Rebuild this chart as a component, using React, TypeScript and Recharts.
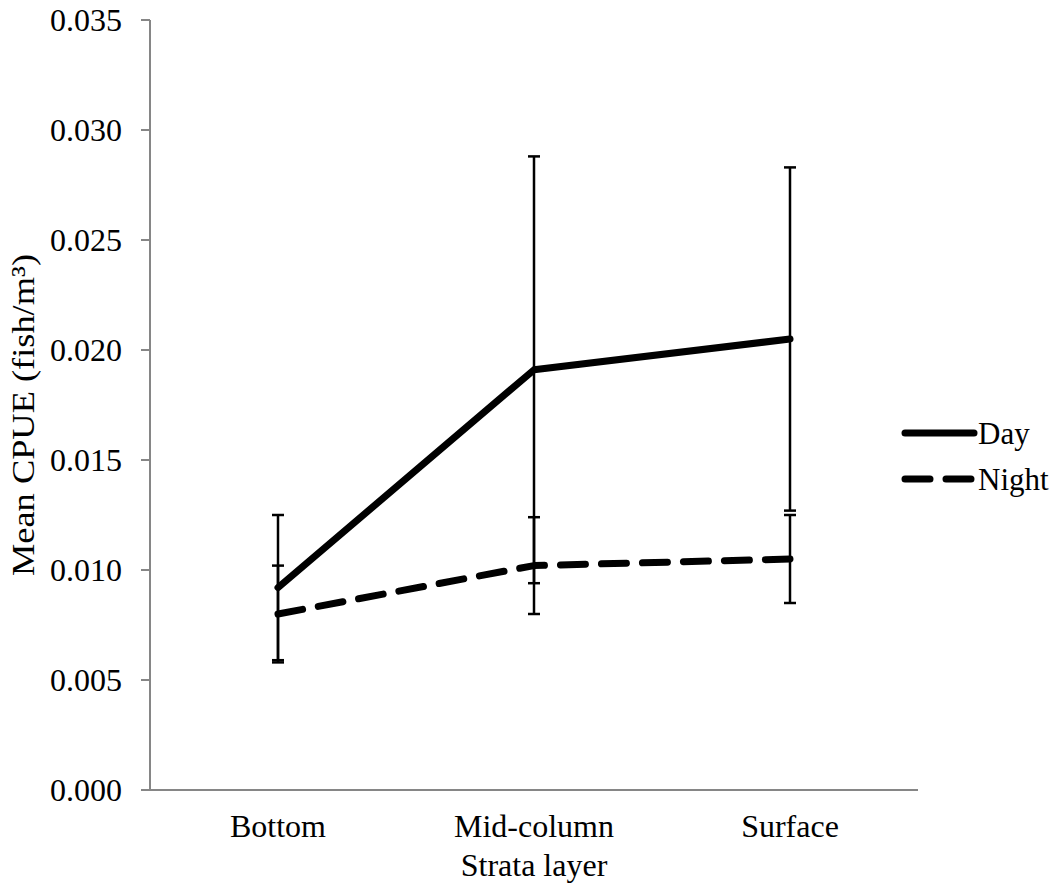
import { LineChart, Line, XAxis, YAxis, ErrorBar, Legend } from 'recharts'

const layers = ['Bottom', 'Mid-column', 'Surface']
const dayMean = [0.0092, 0.0191, 0.0205]
const dayErr = [0.0033, 0.0097, 0.0078]
const nightMean = [0.008, 0.0102, 0.0105]
const nightErr = [0.0022, 0.0022, 0.002]
const yTicks = [0, 0.005, 0.01, 0.015, 0.02, 0.025, 0.03, 0.035]

const data = layers.map((layer, i) => ({
  layer,
  Day: dayMean[i],
  dayErr: dayErr[i],
  Night: nightMean[i],
  nightErr: nightErr[i],
}))

const FONT = '"Liberation Serif", "Times New Roman", serif'
const FS = 32
const AXIS = '#868686'
const DASH = '25 16'

function LegendContent({ payload }: { payload?: { value: string }[] }) {
  if (!payload?.length) return null
  return (
    <div style={{ display: 'flex', flexDirection: 'column' }}>
      {payload.map((p) => (
        <div key={p.value} style={{ display: 'flex', alignItems: 'center', height: 46 }}>
          <svg width={77} height={12} style={{ flexShrink: 0 }}>
            <line
              x1={4}
              y1={6}
              x2={73}
              y2={6}
              stroke="#000"
              strokeWidth={7}
              strokeLinecap="round"
              strokeDasharray={p.value === 'Night' ? DASH : undefined}
            />
          </svg>
          <span style={{ fontFamily: FONT, fontSize: 31, color: '#000', lineHeight: 1, whiteSpace: 'nowrap' }}>
            {p.value}
          </span>
        </div>
      ))}
    </div>
  )
}

function YTitle({ viewBox }: { viewBox?: { x: number; y: number; width: number; height: number } }) {
  if (!viewBox) return null
  const cx = 34
  const cy = viewBox.y + viewBox.height / 2 + 10
  return (
    <text
      x={cx}
      y={cy}
      transform={`rotate(-90, ${cx}, ${cy})`}
      textAnchor="middle"
      fontFamily={FONT}
      fontSize={FS}
      textLength={322}
      lengthAdjust="spacingAndGlyphs"
      fill="#000"
    >
      Mean CPUE (fish/m³)
    </text>
  )
}

export default function App() {
  return (
    <div style={{ position: 'absolute', left: 0, top: 0, width: 1063, height: 892, background: '#fff' }}>
      <LineChart
        width={1063}
        height={892}
        data={data}
        margin={{ top: 20, right: -17, bottom: 12, left: 0 }}
      >
        <XAxis
          dataKey="layer"
          height={90}
          padding={{ left: 128, right: 128 }}
          axisLine={{ stroke: AXIS, strokeWidth: 2 }}
          tickLine={false}
          tickSize={0}
          tickMargin={24}
          tick={{ fontFamily: FONT, fontSize: FS, fill: '#000' }}
          label={{
            value: 'Strata layer',
            position: 'insideBottom',
            offset: 4,
            style: { fontFamily: FONT, fontSize: FS, fill: '#000' },
          }}
        />
        <YAxis
          width={150}
          domain={[0, 0.035]}
          ticks={yTicks}
          tickFormatter={(v: number) => v.toFixed(3)}
          axisLine={{ stroke: AXIS, strokeWidth: 2 }}
          tickLine={{ stroke: AXIS, strokeWidth: 2 }}
          tickSize={9}
          tickMargin={19}
          tick={{ fontFamily: FONT, fontSize: FS, fill: '#000' }}
          label={<YTitle />}
        />
        <Legend
          layout="horizontal"
          verticalAlign="middle"
          align="right"
          content={<LegendContent />}
          wrapperStyle={{ left: 901, top: 410, right: 'auto', width: 162 }}
        />
        <Line
          dataKey="Day"
          stroke="#000"
          strokeWidth={7}
          strokeLinecap="round"
          strokeLinejoin="round"
          dot={false}
          activeDot={false}
          isAnimationActive={false}
        >
          <ErrorBar dataKey="dayErr" direction="y" width={6} stroke="#000" strokeWidth={2.5} isAnimationActive={false} />
        </Line>
        <Line
          dataKey="Night"
          stroke="#000"
          strokeWidth={7}
          strokeLinecap="round"
          strokeLinejoin="round"
          strokeDasharray={DASH}
          dot={false}
          activeDot={false}
          isAnimationActive={false}
        >
          <ErrorBar dataKey="nightErr" direction="y" width={6} stroke="#000" strokeWidth={2.5} isAnimationActive={false} />
        </Line>
      </LineChart>
    </div>
  )
}
